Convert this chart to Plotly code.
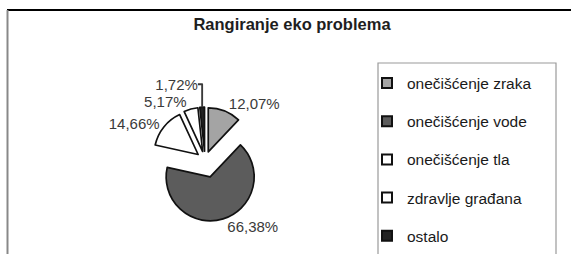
import plotly.graph_objects as go

categories = ["onečišćenje zraka", "onečišćenje vode", "onečišćenje tla", "zdravlje građana", "ostalo"]
values = [12.07, 66.38, 14.66, 5.17, 1.72]
value_labels = ["12,07%", "66,38%", "14,66%", "5,17%", "1,72%"]
colors = ["#a4a4a4", "#5c5c5c", "#ffffff", "#ffffff", "#222222"]
pulls = [0.2, 0.4, 0.2, 0.2, 0.2]

W, H = 571, 254
FONT = "Liberation Sans, Arial, sans-serif"

def px(x):
    return x / W

def py(y):
    return 1 - y / H

fig = go.Figure()
fig.add_trace(go.Pie(
    labels=categories,
    values=values,
    text=value_labels,
    textinfo="text",
    textposition="outside",
    sort=False,
    direction="clockwise",
    rotation=0,
    pull=pulls,
    marker=dict(colors=colors, line=dict(color="#111111", width=1.7)),
    outsidetextfont=dict(family=FONT, size=15, color="#3a3a3a"),
    domain=dict(x=[px(143.4), px(266.6)], y=[py(221.6), py(98.4)]),
    showlegend=False,
    hoverinfo="label+percent",
))

# legend entries (one per category)
for i, (name, col) in enumerate(zip(categories, colors)):
    fig.add_trace(go.Scatter(
        x=[None], y=[None], mode="markers", name=name,
        legendgroup=f"g{i}",
        marker=dict(symbol="square", size=10, color=col,
                    line=dict(color="#111111", width=2)),
        hoverinfo="skip",
    ))

x0, x1, yt = px(378), px(556), py(63)
shapes = [
    dict(type="line", xref="paper", yref="paper", x0=px(7), x1=1.0, y0=py(10), y1=py(10),
         line=dict(color="#000000", width=2)),
    dict(type="line", xref="paper", yref="paper", x0=px(7.5), x1=px(7.5), y0=py(10), y1=0,
         line=dict(color="#888888", width=2)),
    dict(type="path", xref="paper", yref="paper",
         path=f"M {x0},0 L {x0},{yt} L {x1},{yt} L {x1},0",
         line=dict(color="#9a9a9a", width=1.2), fillcolor="rgba(0,0,0,0)", layer="below"),
]

fig.update_layout(
    width=W, height=H,
    margin=dict(l=0, r=0, t=0, b=0, autoexpand=False),
    paper_bgcolor="#ffffff",
    plot_bgcolor="rgba(0,0,0,0)",
    font=dict(family=FONT, color="#222222"),
    xaxis=dict(visible=False),
    yaxis=dict(visible=False),
    title=dict(text="<b>Rangiranje eko problema</b>", x=px(292), xanchor="center",
               y=py(24), yanchor="middle",
               font=dict(size=16.5, color="#1e1e1e")),
    legend=dict(x=px(367), xanchor="left", y=py(66.5), yanchor="top",
                font=dict(size=15.5, color="#1a1a1a"),
                bgcolor="rgba(0,0,0,0)", borderwidth=0,
                itemwidth=30, tracegroupgap=15, traceorder="grouped"),
    shapes=shapes,
)

fig.write_html("out.html",
               config={"displayModeBar": False},
               post_script="document.body.style.margin='0';document.body.style.overflow='hidden';")
